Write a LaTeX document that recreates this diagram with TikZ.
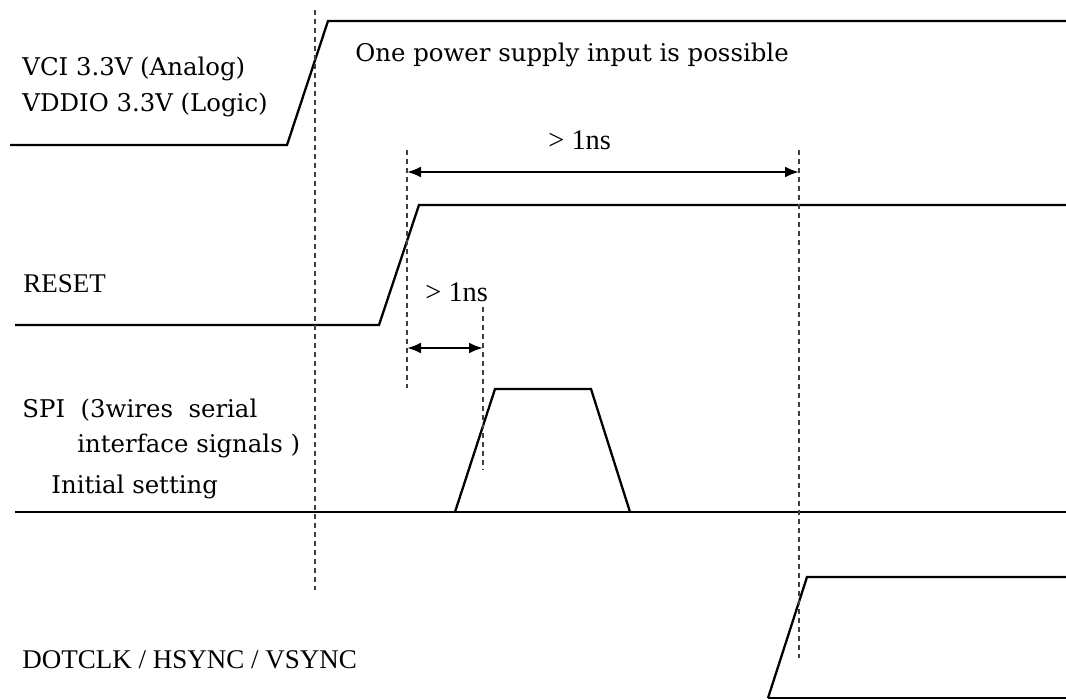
\documentclass[tikz,border=0pt]{standalone}
\usepackage{fontspec}
\setmainfont{Liberation Serif}
\newfontfamily\widefont{DejaVu Serif}
\usetikzlibrary{arrows.meta,positioning}

\begin{document}
\begin{tikzpicture}[
  x=0.5pt, y=-0.5pt,
  wave/.style={line width=1.15pt, line join=miter},
  guide/.style={draw=black!75, line width=0.75pt, dash pattern=on 2.5pt off 2pt},
  dim/.style={{Latex[length=7pt,width=5.5pt]}-{Latex[length=7pt,width=5.5pt]}, line width=1.15pt},
  lbl/.style={anchor=base west, inner sep=0pt, font=\fontsize{13.5}{16}\selectfont},
  wlbl/.style={anchor=base west, inner sep=0pt, font=\widefont\fontsize{12.2}{15}\selectfont}
]
\useasboundingbox (0,0) rectangle (1066,700);

% Power supply
\draw[wave] (10,145) -- (287,145) -- (328,21) -- (1066,21);
\node[wlbl] (vci) at (22,76) {VCI 3.3V (Analog)};
\node[wlbl] (vddio) at (22,112) {VDDIO 3.3V (Logic)};
\node[wlbl] (note) at (355,62) {One power supply input is possible};

% RESET
\draw[wave] (15,325) -- (379,325) -- (419,205) -- (1066,205);
\node[lbl] (reset) at (23,293) {RESET};

% SPI
\draw[wave] (15,512) -- (1066,512);
\draw[wave] (455,512) -- (495,389) -- (591,389) -- (630,512);
\node[wlbl] (spi) at (22,417) {SPI~ (3wires~ serial};
\node[wlbl] (spisig) at (77,452) {interface signals )};
\node[wlbl] (spiinit) at (51,493) {Initial setting};

% DOTCLK / HSYNC / VSYNC
\draw[wave] (768,698) -- (807,577) -- (1066,577);
\draw[wave] (768,698) -- (1066,698);
\node[lbl] (clk) at (22,668) {DOTCLK / HSYNC / VSYNC};

% Guides
\coordinate (g1t) at (315,10);  \coordinate (g1b) at (315,590);
\coordinate (g2t) at (407,150); \coordinate (g2b) at (407,388);
\coordinate (g3t) at (799,150); \coordinate (g3b) at (799,658);
\coordinate (g4t) at (483,307); \coordinate (g4b) at (483,470);
\draw[guide] (g1t) -- (g1b);
\draw[guide] (g2t) -- (g2b);
\draw[guide] (g3t) -- (g3b);
\draw[guide] (g4t) -- (g4b);

% Timing
\coordinate (t1a) at (407,172); \coordinate (t1b) at (799,172);
\coordinate (t2a) at (407,348); \coordinate (t2b) at (483,348);
\draw[dim] (t1a) -- (t1b);
\draw[dim] (t2a) -- (t2b);
\node[lbl, font=\fontsize{14.2}{16}\selectfont] (tlong) at (548,150) {> 1ns};
\node[lbl, font=\fontsize{14.2}{16}\selectfont] (tshort) at (425,302) {> 1ns};

\end{tikzpicture}
\end{document}
